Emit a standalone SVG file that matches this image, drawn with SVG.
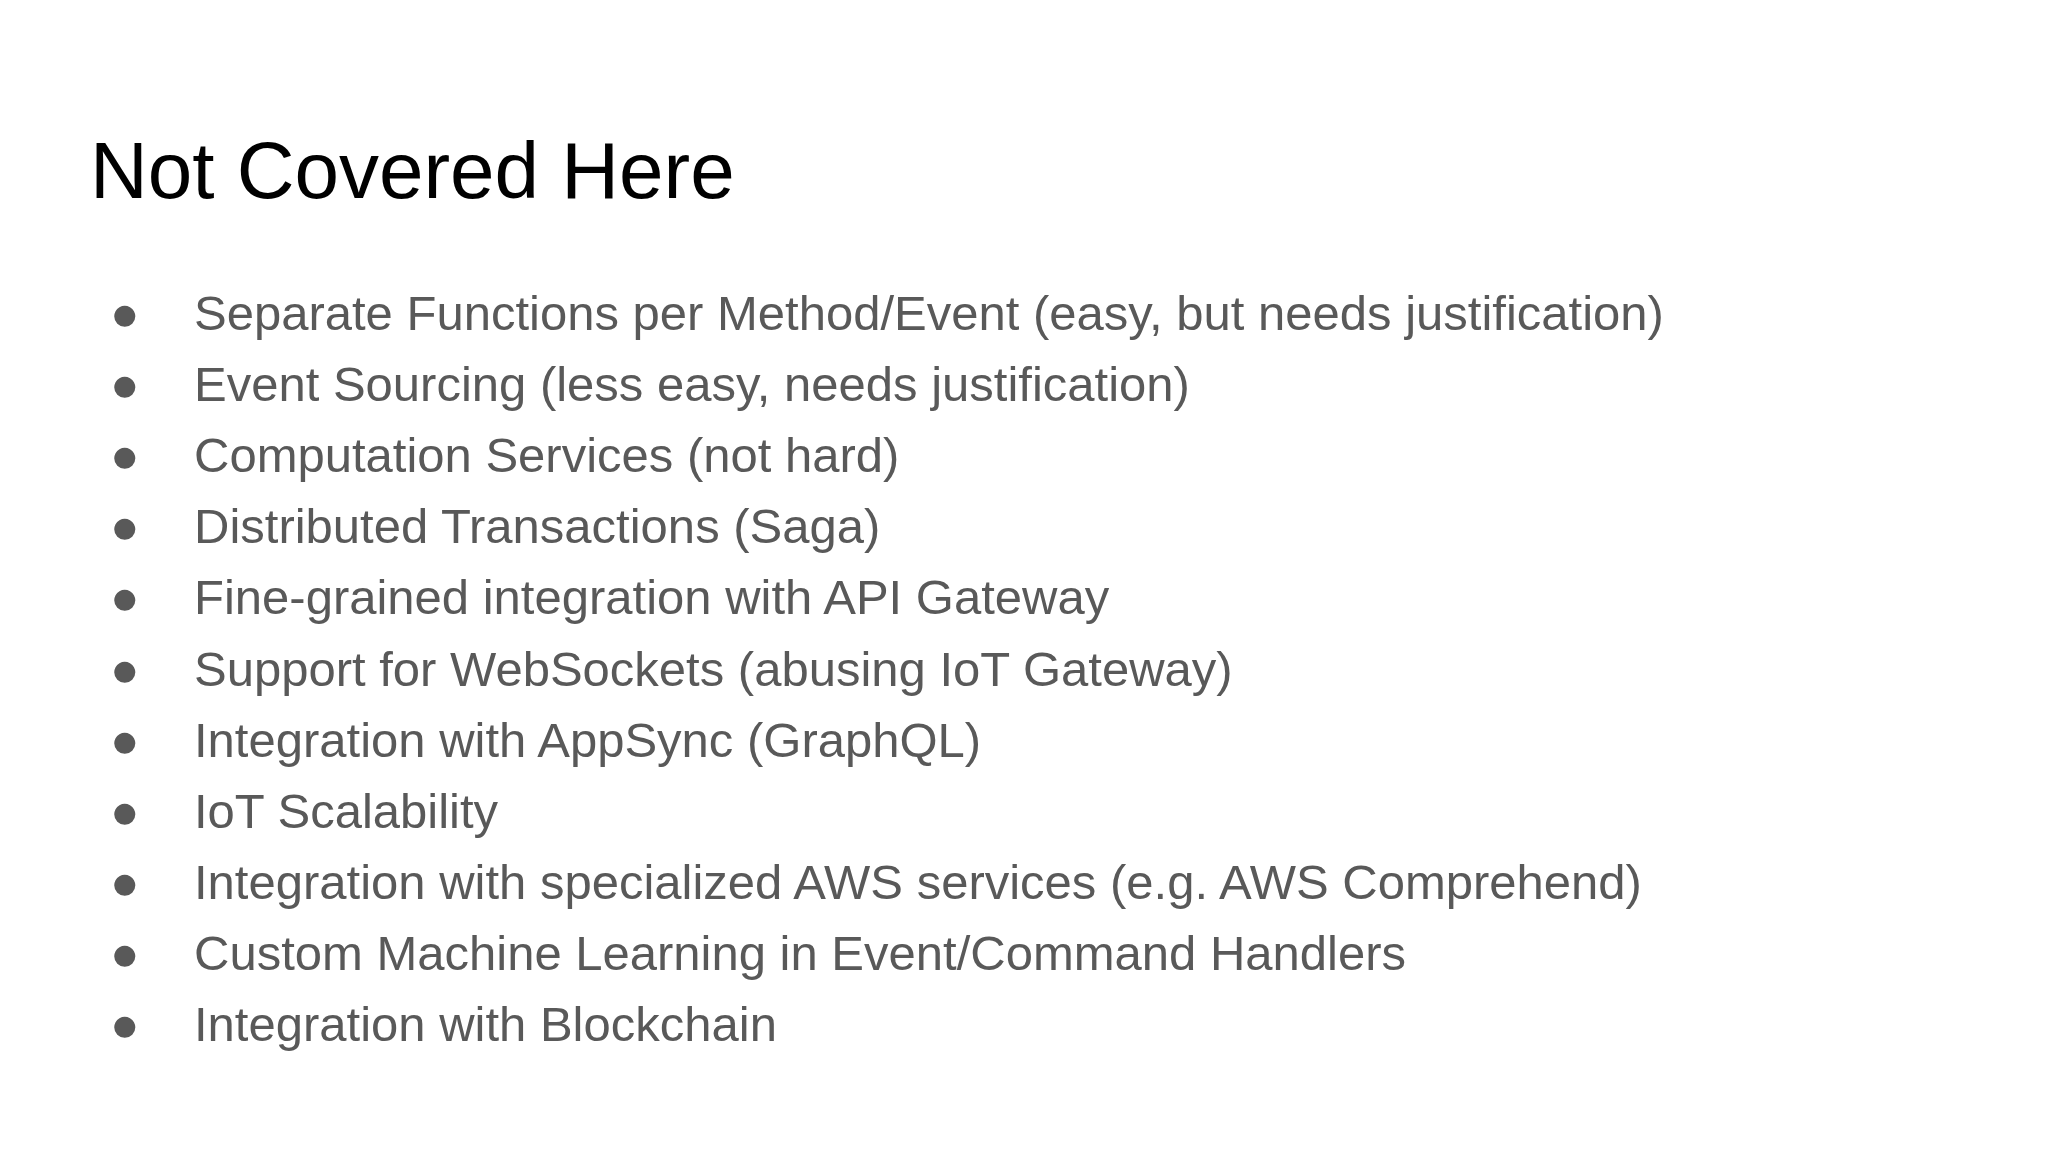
<svg xmlns="http://www.w3.org/2000/svg" width="2048" height="1152" viewBox="0 0 2048 1152">
<style>
.t{font-family:"Liberation Sans",Arial,sans-serif;font-size:80px;fill:#000}
.b{font-family:"Liberation Sans",Arial,sans-serif;font-size:49px;fill:#595959}
</style>
<rect width="2048" height="1152" fill="#fff"/>
<text class="t" x="90" y="198">Not Covered Here</text>
<g class="b">
<g id="l1"><text x="110" y="330">●</text><text x="194" y="330">Separate Functions per Method/Event (easy, but needs justification)</text></g>
<g id="l2"><text x="110" y="401">●</text><text x="194" y="401">Event Sourcing (less easy, needs justification)</text></g>
<g id="l3"><text x="110" y="472">●</text><text x="194" y="472">Computation Services (not hard)</text></g>
<g id="l4"><text x="110" y="543">●</text><text x="194" y="543">Distributed Transactions (Saga)</text></g>
<g id="l5"><text x="110" y="614">●</text><text x="194" y="614">Fine-grained integration with API Gateway</text></g>
<g id="l6"><text x="110" y="686">●</text><text x="194" y="686">Support for WebSockets (abusing IoT Gateway)</text></g>
<g id="l7"><text x="110" y="757">●</text><text x="194" y="757">Integration with AppSync (GraphQL)</text></g>
<g id="l8"><text x="110" y="828">●</text><text x="194" y="828">IoT Scalability</text></g>
<g id="l9"><text x="110" y="899">●</text><text x="194" y="899">Integration with specialized AWS services (e.g. AWS Comprehend)</text></g>
<g id="l10"><text x="110" y="970">●</text><text x="194" y="970">Custom Machine Learning in Event/Command Handlers</text></g>
<g id="l11"><text x="110" y="1041">●</text><text x="194" y="1041">Integration with Blockchain</text></g>
</g>
</svg>
